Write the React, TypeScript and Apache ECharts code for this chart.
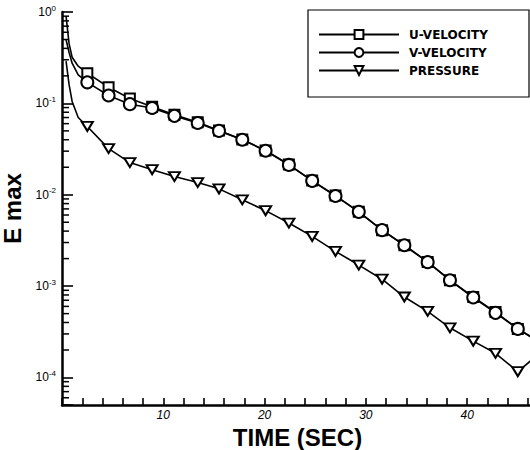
import React, { useEffect, useRef } from "react";
import * as echarts from "echarts";

// Marker times (SEC)
const times = [2.5, 4.6, 6.7, 8.9, 11.1, 13.4, 15.5, 17.8, 20.1, 22.4, 24.7, 27.0, 29.3, 31.6, 33.8, 36.1, 38.3, 40.6, 42.8, 45.0];
const uVelocity = [0.214, 0.15, 0.113, 0.092, 0.075, 0.062, 0.0505, 0.0402, 0.0305, 0.0214, 0.0143, 0.0098, 0.0065, 0.0041, 0.0028, 0.00184, 0.00116, 0.00076, 0.00052, 0.00034];
const vVelocity = [0.17, 0.122, 0.098, 0.089, 0.073, 0.061, 0.05, 0.04, 0.0303, 0.0212, 0.0142, 0.0097, 0.0065, 0.0041, 0.0028, 0.00183, 0.00116, 0.00075, 0.00051, 0.00034];
const pressure = [0.0559, 0.032, 0.0225, 0.0188, 0.0158, 0.0136, 0.0116, 0.0088, 0.0067, 0.0049, 0.0035, 0.0024, 0.0017, 0.00119, 0.00076, 0.00053, 0.00035, 0.00025, 0.000184, 0.000116];

// Unmarked points at the start and end of each curve
const leadTimes = [0.4, 0.7, 1.0, 1.6];
const uLead = [0.9, 0.45, 0.32, 0.255];
const vLead = [0.5, 0.36, 0.275, 0.205];
const pLead = [0.29, 0.16, 0.105, 0.07];
const tailTime = 46.5;
const uTail = 0.00027;
const vTail = 0.00027;
const pTail = 0.00016;

// Axes
const xMin = 0;
const xMax = 46.5;
const xStep = 2;
const xLabelEvery = 10;
const yMin = 5e-5;
const yMax = 1;
const minorMultipliers = [2, 3, 4, 5, 6, 7, 8, 9];
const decadeExponents = [-5, -4, -3, -2, -1];

const seriesNames = ["U-VELOCITY", "V-VELOCITY", "PRESSURE"];

function buildData(lead: number[], vals: number[], tail: number) {
  const out: any[] = [];
  leadTimes.forEach((t, i) => out.push({ value: [t, lead[i]], symbol: "none" }));
  times.forEach((t, i) => out.push([t, vals[i]]));
  out.push({ value: [tailTime, tail], symbol: "none" });
  return out;
}

const minorTicks: number[][] = [];
decadeExponents.forEach((e) => {
  minorMultipliers.forEach((m) => {
    const v = m * Math.pow(10, e);
    if (v >= yMin && v <= yMax) minorTicks.push([xMin, v]);
  });
});

const FONT = "'Liberation Sans', Arial, sans-serif";
const markerStyle = { color: "#fff", borderColor: "#000", borderWidth: 2 };
const lineStyle = { color: "#000", width: 1.6 };
const triangle = "path://M0,0L12,0L6,10Z";

export default function App() {
  const ref = useRef<HTMLDivElement>(null);
  useEffect(() => {
    if (!ref.current) return;
    const chart = echarts.init(ref.current, null, { renderer: "svg" });
    chart.setOption({
      animation: false,
      backgroundColor: "#fff",
      grid: { left: 62, top: 12, width: 471, height: 393, outerBoundsMode: "none" },
      legend: {
        orient: "vertical",
        left: 308,
        top: 10,
        data: seriesNames,
        itemWidth: 80,
        itemHeight: 11,
        itemGap: 5,
        padding: [18, 8, 20, 10],
        borderColor: "#000",
        borderWidth: 1.2,
        textStyle: {
          fontFamily: "'DejaVu Sans', sans-serif",
          fontWeight: "bold",
          fontSize: 12,
          color: "#000",
          width: 112,
          lineHeight: 13,
          padding: [0, 0, 0, 5],
        },
      },
      xAxis: {
        type: "value",
        min: xMin,
        max: xMax,
        interval: xStep,
        name: "TIME (SEC)",
        nameLocation: "middle",
        nameGap: 17,
        nameTextStyle: { fontFamily: FONT, fontWeight: "bold", fontSize: 24, color: "#000" },
        axisLine: { lineStyle: { color: "#000", width: 2.5 } },
        axisTick: { show: true, inside: true, length: 7, lineStyle: { color: "#000", width: 1.6 } },
        splitLine: { show: false },
        axisLabel: {
          margin: 4,
          fontFamily: FONT,
          fontStyle: "italic",
          fontSize: 12,
          color: "#000",
          formatter: (v: number) => (v > 0 && v % xLabelEvery === 0 ? String(v) : ""),
        },
      },
      yAxis: {
        type: "log",
        logBase: 10,
        min: yMin,
        max: yMax,
        name: "E max",
        nameLocation: "middle",
        nameRotate: 90,
        nameGap: 33,
        nameTextStyle: { fontFamily: FONT, fontWeight: "bold", fontSize: 24, color: "#000" },
        axisLine: { show: true, lineStyle: { color: "#000", width: 2.5 } },
        axisTick: { show: true, inside: true, length: 11, lineStyle: { color: "#000", width: 1.6 } },
        splitLine: { show: false },
        axisLabel: {
          margin: 6,
          color: "#000",
          formatter: (v: number) => {
            const l = Math.log10(v);
            const e = Math.round(l);
            if (Math.abs(l - e) > 1e-6) return "";
            return `{b|10}{s|${e}}`;
          },
          rich: {
            b: { fontFamily: FONT, fontSize: 12, color: "#000" },
            s: { fontFamily: FONT, fontSize: 8, color: "#000", padding: [0, 0, 8, 0] },
          },
        },
      },
      series: [
        {
          name: "U-VELOCITY",
          type: "line",
          data: buildData(uLead, uVelocity, uTail),
          symbol: "rect",
          symbolSize: 10,
          itemStyle: markerStyle,
          lineStyle,
          z: 3,
        },
        {
          name: "V-VELOCITY",
          type: "line",
          data: buildData(vLead, vVelocity, vTail),
          symbol: "circle",
          symbolSize: 12,
          itemStyle: markerStyle,
          lineStyle,
          z: 4,
        },
        {
          name: "PRESSURE",
          type: "line",
          data: buildData(pLead, pressure, pTail),
          symbol: triangle,
          symbolSize: [11, 9],
          itemStyle: markerStyle,
          lineStyle,
          z: 3,
        },
        {
          name: "minorTicks",
          type: "custom",
          silent: true,
          clip: false,
          data: minorTicks,
          renderItem: (params: any, api: any) => {
            const p = api.coord([api.value(0), api.value(1)]);
            return {
              type: "line",
              shape: { x1: p[0], y1: p[1], x2: p[0] + 7, y2: p[1] },
              style: { stroke: "#000", lineWidth: 1.5 },
            };
          },
          z: 5,
        },
      ],
    });
    return () => chart.dispose();
  }, []);
  return (
    <div
      ref={ref}
      style={{ position: "fixed", left: 0, top: 0, width: 530, height: 450, background: "#fff" }}
    />
  );
}
